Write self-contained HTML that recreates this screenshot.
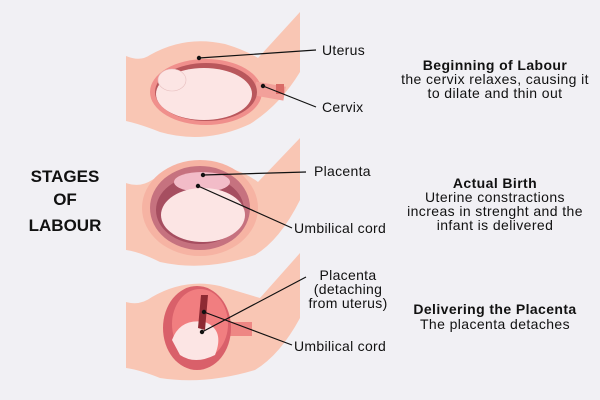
<!DOCTYPE html>
<html><head><style>
html,body{margin:0;padding:0;background:#f1f0f4;}
svg{display:block;}
text{font-family:"Liberation Sans",sans-serif;fill:#111;}
</style></head><body>
<svg width="600" height="400" viewBox="0 0 600 400">
<rect width="600" height="400" fill="#f1f0f4"/>
<!-- Title -->
<g font-weight="bold" font-size="17" text-anchor="middle">
<text x="65" y="182">STAGES</text>
<text x="65" y="205">OF</text>
<text x="65" y="231">LABOUR</text>
</g>

<!-- Panel 1 -->
<path d="M126,56 Q140,62 150,55 Q185,35 225,44 Q245,50 258,58 L300,12 L300,72 Q280,105 250,124 Q205,145 160,132 Q140,124 126,121 Z" fill="#f9c6b4"/>
<ellipse cx="206" cy="92" rx="56" ry="33" fill="#f08f8c"/>
<rect x="255" y="82" width="30" height="14" fill="#f2a09a" transform="rotate(10 258 89)"/>
<rect x="276" y="84" width="8" height="10" fill="#d96b67"/>
<ellipse cx="206" cy="92" rx="51" ry="29" fill="#b9575c"/>
<ellipse cx="204" cy="94" rx="48" ry="26" fill="#fce5e4"/>
<ellipse cx="172" cy="80" rx="14" ry="11" fill="#fce5e4" stroke="#e8c0c0" stroke-width="0.6"/>
<line x1="199" y1="58" x2="316" y2="50" stroke="#111" stroke-width="1.2"/>
<circle cx="199" cy="58" r="2.2" fill="#111"/>
<line x1="263" y1="86" x2="316" y2="107" stroke="#111" stroke-width="1.2"/>
<circle cx="263" cy="86" r="2.2" fill="#111"/>
<g font-size="14" letter-spacing="0.3">
<text x="322" y="55">Uterus</text>
<text x="322" y="112">Cervix</text>
</g>

<!-- Panel 2 -->
<path d="M126,183 Q140,188 152,180 Q185,160 225,167 Q245,172 258,182 L300,138 L300,200 Q280,240 255,255 Q205,272 160,262 Q140,252 126,250 Z" fill="#f9c6b4"/>
<ellipse cx="200" cy="208" rx="58" ry="48" fill="#f6b3a3"/>
<ellipse cx="200" cy="208" rx="50" ry="42" fill="#c6727f"/>
<ellipse cx="200" cy="210" rx="44" ry="34" fill="#a64e60"/>
<ellipse cx="202" cy="182" rx="28" ry="10" fill="#f2bcc8"/>
<ellipse cx="203" cy="215" rx="42" ry="27" fill="#fce5e4"/>
<line x1="203" y1="175" x2="306" y2="172" stroke="#111" stroke-width="1.2"/>
<circle cx="203" cy="175" r="2.2" fill="#111"/>
<line x1="198" y1="186" x2="292" y2="228" stroke="#111" stroke-width="1.2"/>
<circle cx="198" cy="186" r="2.2" fill="#111"/>
<g font-size="14" letter-spacing="0.3">
<text x="314" y="176">Placenta</text>
<text x="294" y="233">Umbilical cord</text>
</g>

<!-- Panel 3 -->
<path d="M126,302 Q140,306 152,297 Q185,278 220,286 L260,298 L300,253 L300,318 Q280,355 255,370 Q205,385 160,378 Q140,370 126,368 Z" fill="#f9c6b4"/>
<rect x="225" y="322" width="27" height="14" fill="#ee8784"/>
<ellipse cx="197" cy="328" rx="34" ry="42" fill="#d9606a"/>
<ellipse cx="200" cy="324" rx="28" ry="35" fill="#f17e80"/>
<path d="M172,340 Q180,318 205,322 Q225,330 215,355 Q195,365 180,355 Z" fill="#fce5e4"/>
<path d="M201,295 L208,295 L205,330 L198,328 Z" fill="#8e2a33"/>
<line x1="202" y1="332" x2="306" y2="277" stroke="#111" stroke-width="1.2"/>
<circle cx="202" cy="332" r="2.2" fill="#111"/>
<line x1="204" y1="312" x2="292" y2="345" stroke="#111" stroke-width="1.2"/>
<circle cx="204" cy="312" r="2.2" fill="#111"/>
<g font-size="14" text-anchor="middle" letter-spacing="0.3">
<text x="348" y="280">Placenta</text>
<text x="348" y="294">(detaching</text>
<text x="348" y="308">from uterus)</text>
</g>
<text x="294" y="351" font-size="14" letter-spacing="0.3">Umbilical cord</text>

<!-- Right descriptions -->
<g text-anchor="middle" font-size="14" letter-spacing="0.4">
<text x="495" y="70" font-weight="bold">Beginning of Labour</text>
<text x="495" y="84">the cervix relaxes, causing it</text>
<text x="495" y="98">to dilate and thin out</text>
<text x="495" y="188" font-weight="bold">Actual Birth</text>
<text x="495" y="202">Uterine constractions</text>
<text x="495" y="216">increas in strenght and the</text>
<text x="495" y="230">infant is delivered</text>
<text x="495" y="314" font-weight="bold">Delivering the Placenta</text>
<text x="495" y="329">The placenta detaches</text>
</g>
</svg>
</body></html>
